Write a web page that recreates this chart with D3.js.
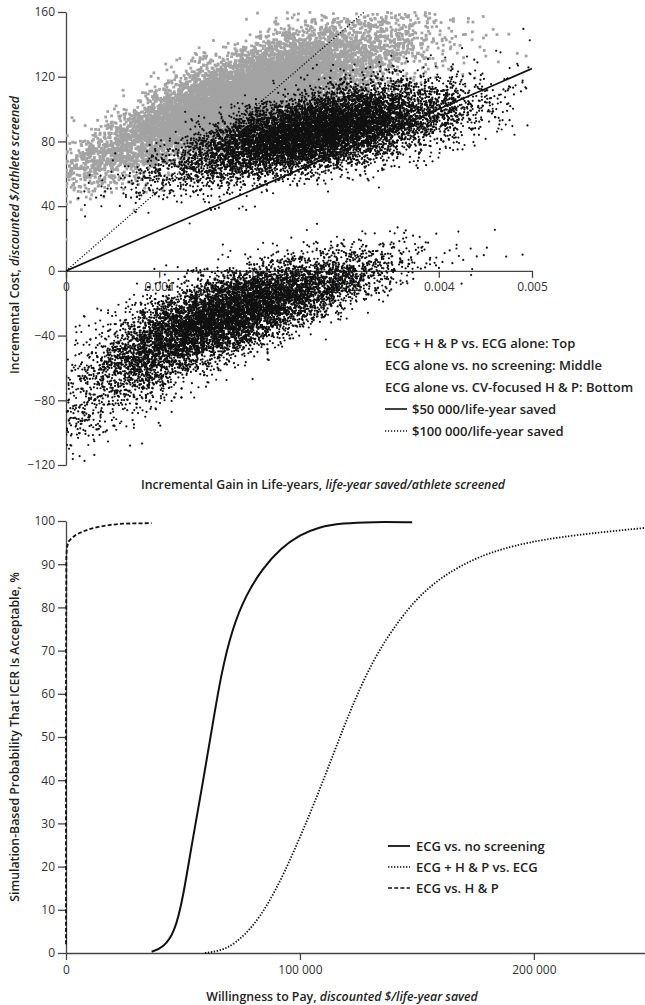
<!DOCTYPE html>
<html>
<head>
<meta charset="utf-8">
<script src="https://cdn.jsdelivr.net/npm/d3@7/dist/d3.min.js"></script>
<style>
  body { margin: 0; background: #fff; }
  svg { display: block; font-family: "Open Sans", sans-serif; }
  .axis path, .axis line { stroke: #444; stroke-width: 1.3; }
  .axis text { fill: #333; font-size: 12px; font-family: "Open Sans", sans-serif; }
  .title { fill: #222; font-size: 12.3px; font-weight: 600; }
  .legend { fill: #222; font-size: 13px; font-weight: 600; }
</style>
</head>
<body>
<svg id="chart" width="645" height="1005"></svg>
<script>
// ---- top panel: Monte Carlo clouds, summarised ----
// centre line of each cloud [life-years, cost] and vertical spread at those points
var topCenter = [[0, 62], [0.0005, 72], [0.001, 88], [0.0015, 100], [0.002, 112], [0.0025, 122], [0.003, 131], [0.0035, 139], [0.004, 146], [0.005, 155]];
var topSpread = [10, 11, 12, 13, 13, 13, 13, 13, 13, 13];
var topX = [0.0019, 0.00085];       // mean, sd of life-years
var topCount = 10000;

var midCenter = [[0, 45], [0.0005, 52], [0.001, 61], [0.0015, 70], [0.002, 78], [0.0025, 84], [0.003, 90], [0.0035, 95], [0.004, 100], [0.005, 108]];
var midSpread = [8, 8, 9, 10, 11, 11, 12, 12, 12, 12];
var midX = [0.0027, 0.00075];
var midCount = 10000;

var botCenter = [[0, -85], [0.0005, -62], [0.001, -44], [0.0015, -32], [0.002, -22], [0.0025, -13], [0.003, -4], [0.0035, 4], [0.004, 11], [0.005, 20]];
var botSpread = [20, 17, 15, 13, 12, 11, 10, 9, 9, 9];
var botX = [0.0017, 0.0008];
var botCount = 9000;

// willingness-to-pay thresholds drawn as lines (slope in $ per life-year on the axes)
var thresholdSlopes = [25000, 50000];

var topYTicks = [-120, -80, -40, 0, 40, 80, 120, 160];
var topXTicks = [0, 0.001, 0.002, 0.003, 0.004, 0.005];

var topLegend = [
  "ECG + H & P vs. ECG alone: Top",
  "ECG alone vs. no screening: Middle",
  "ECG alone vs. CV-focused H & P: Bottom",
  "$50 000/life-year saved",
  "$100 000/life-year saved"
];

// ---- bottom panel: acceptability curves [wtp, %] ----
var ecgVsNone = [[36600, 0.3], [41600, 1.2], [46600, 4.9], [50100, 13], [53700, 25], [58700, 40], [63000, 54], [66500, 65], [71000, 75], [77000, 83], [84000, 89], [92000, 93.8], [100000, 96.8], [108000, 98.6], [118000, 99.5], [131000, 99.8], [148000, 99.7]];
var hpVsEcg = [[59400, 0], [66000, 0.5], [72000, 2], [80800, 6.5], [89300, 14], [97900, 24], [106400, 35], [115000, 47], [122100, 57], [131300, 68], [142700, 77.5], [154100, 84.5], [168400, 89.8], [185500, 93.7], [210000, 96.4], [247500, 98.4]];
var ecgVsHp = [[0, 2], [0, 60], [150, 92], [400, 93.8], [1000, 95.2], [2400, 96], [4500, 96.9], [7400, 97.6], [10500, 98.2], [14500, 98.7], [19000, 99.1], [24400, 99.4], [36600, 99.5]];

var botYTicks = d3.range(0, 101, 10);
var botXTicks = [0, 100000, 200000];
var botLegend = ["ECG vs. no screening", "ECG + H & P vs. ECG", "ECG vs. H & P"];

var svg = d3.select("#chart");

// ================= TOP PANEL =================
var x1 = d3.scaleLinear().domain([0, 0.005]).range([66, 532]);
var y1 = d3.scaleLinear().domain([-120, 160]).range([465, 12]);

svg.append("defs").append("clipPath").attr("id", "clipTop")
  .append("rect")
  .attr("x", x1(0)).attr("y", y1(160) - 1)
  .attr("width", x1(0.005) - x1(0)).attr("height", y1(-120) - y1(160) + 1);

svg.append("g").attr("class", "axis")
  .attr("transform", "translate(" + x1(0) + ",0)")
  .call(d3.axisLeft(y1).tickValues(topYTicks).tickSize(8).tickSizeOuter(0).tickPadding(3));

svg.append("g").attr("class", "axis")
  .attr("transform", "translate(0," + y1(0) + ")")
  .call(d3.axisBottom(x1).tickValues(topXTicks).tickSize(7).tickSizeOuter(0).tickPadding(5)
    .tickFormat(function(d) { return d === 0 ? "0" : d3.format(".3f")(d); }));

// seeded generator so the cloud is the same on every run
function mulberry32(a) {
  return function() {
    a |= 0; a = a + 0x6D2B79F5 | 0;
    var t = Math.imul(a ^ a >>> 15, 1 | a);
    t = t + Math.imul(t ^ t >>> 7, 61 | t) ^ t;
    return ((t ^ t >>> 14) >>> 0) / 4294967296;
  };
}
var rnd = mulberry32(20100406);
function gauss() {
  var u = 1 - rnd(), v = rnd();
  return Math.sqrt(-2 * Math.log(u)) * Math.cos(2 * Math.PI * v);
}

function cloud(center, spread, xs, n) {
  var cy = d3.scaleLinear().domain(center.map(function(d) { return d[0]; })).range(center.map(function(d) { return d[1]; }));
  var sy = d3.scaleLinear().domain(center.map(function(d) { return d[0]; })).range(spread);
  var pts = [];
  for (var i = 0; i < n; i++) {
    var lx = xs[0] + xs[1] * gauss();
    var c = cy(lx) + sy(lx) * gauss();
    if (lx < 0 || lx > 0.005 || c < -120 || c > 160) continue;
    pts.push([lx, c]);
  }
  return pts;
}

var pts = svg.append("g").attr("clip-path", "url(#clipTop)");

pts.append("g").selectAll("rect")
  .data(cloud(topCenter, topSpread, topX, topCount))
  .join("rect")
  .attr("x", function(d) { return x1(d[0]) - 1.4; })
  .attr("y", function(d) { return y1(d[1]) - 1.4; })
  .attr("width", 2.8).attr("height", 2.8)
  .attr("fill", "#a3a3a3");

pts.append("g").selectAll("circle")
  .data(cloud(midCenter, midSpread, midX, midCount))
  .join("circle")
  .attr("cx", function(d) { return x1(d[0]); })
  .attr("cy", function(d) { return y1(d[1]); })
  .attr("r", 1.1).attr("fill", "#111");

pts.append("g").selectAll("circle")
  .data(cloud(botCenter, botSpread, botX, botCount))
  .join("circle")
  .attr("cx", function(d) { return x1(d[0]); })
  .attr("cy", function(d) { return y1(d[1]); })
  .attr("r", 1.1).attr("fill", "#111");

// threshold lines from the origin
thresholdSlopes.forEach(function(s, i) {
  var xEnd = Math.min(0.005, 160 / s);
  pts.append("line")
    .attr("x1", x1(0)).attr("y1", y1(0))
    .attr("x2", x1(xEnd)).attr("y2", y1(xEnd * s))
    .attr("stroke", "#111")
    .attr("stroke-width", i === 0 ? 1.7 : 1.3)
    .attr("stroke-dasharray", i === 0 ? null : "1.2,1.8");
});

// y title
svg.append("text").attr("class", "title")
  .attr("transform", "translate(19,235) rotate(-90)")
  .attr("text-anchor", "middle")
  .call(function(t) {
    t.append("tspan").text("Incremental Cost, ");
    t.append("tspan").attr("font-style", "italic").text("discounted $/athlete screened");
  });

svg.append("text").attr("class", "title")
  .attr("x", 323).attr("y", 489)
  .attr("text-anchor", "middle")
  .call(function(t) {
    t.append("tspan").text("Incremental Gain in Life-years, ");
    t.append("tspan").attr("font-style", "italic").text("life-year saved/athlete screened");
  });

var lgTop = svg.append("g");
topLegend.forEach(function(label, i) {
  var yy = 343 + i * 22;
  var tx = 385;
  if (i >= 3) {
    lgTop.append("line")
      .attr("x1", 385).attr("x2", 407).attr("y1", yy).attr("y2", yy)
      .attr("stroke", "#111")
      .attr("stroke-width", i === 3 ? 1.6 : 1.3)
      .attr("stroke-dasharray", i === 3 ? null : "1.2,1.8");
    tx = 412;
  }
  lgTop.append("text").attr("class", "legend")
    .attr("x", tx).attr("y", yy).attr("dy", "0.36em")
    .text(label);
});

// ================= BOTTOM PANEL =================
var x2 = d3.scaleLinear().domain([0, 247500]).range([66, 645]);
var y2 = d3.scaleLinear().domain([0, 100]).range([953, 521]);

svg.append("g").attr("class", "axis")
  .attr("transform", "translate(" + x2(0) + ",0)")
  .call(d3.axisLeft(y2).tickValues(botYTicks).tickSize(8).tickSizeOuter(0).tickPadding(3));

svg.append("g").attr("class", "axis")
  .attr("transform", "translate(0," + y2(0) + ")")
  .call(d3.axisBottom(x2).tickValues(botXTicks).tickSize(7).tickSizeOuter(0).tickPadding(5)
    .tickFormat(function(d) { return d3.format(",")(d).replace(/,/g, " "); }));

var smooth = d3.line()
  .x(function(d) { return x2(d[0]); })
  .y(function(d) { return y2(d[1]); })
  .curve(d3.curveBasis);
var straight = d3.line()
  .x(function(d) { return x2(d[0]); })
  .y(function(d) { return y2(d[1]); });

var curveStyles = [
  { data: ecgVsNone, dash: null, w: 2, gen: smooth },
  { data: hpVsEcg, dash: "1.4,1.6", w: 1.8, gen: smooth },
  { data: ecgVsHp, dash: "4,2.2", w: 1.8, gen: straight }
];

curveStyles.forEach(function(c) {
  svg.append("path")
    .datum(c.data)
    .attr("d", c.gen)
    .attr("fill", "none")
    .attr("stroke", "#111")
    .attr("stroke-width", c.w)
    .attr("stroke-dasharray", c.dash);
});

svg.append("text").attr("class", "title")
  .attr("transform", "translate(19,737) rotate(-90)")
  .attr("text-anchor", "middle")
  .text("Simulation-Based Probability That ICER Is Acceptable, %");

svg.append("text").attr("class", "title")
  .attr("x", 342).attr("y", 1001)
  .attr("text-anchor", "middle")
  .call(function(t) {
    t.append("tspan").text("Willingness to Pay, ");
    t.append("tspan").attr("font-style", "italic").text("discounted $/life-year saved");
  });

var lgBot = svg.append("g");
botLegend.forEach(function(label, i) {
  var yy = 846 + i * 21;
  lgBot.append("line")
    .attr("x1", 388).attr("x2", 410).attr("y1", yy).attr("y2", yy)
    .attr("stroke", "#111")
    .attr("stroke-width", i === 0 ? 1.8 : 1.4)
    .attr("stroke-dasharray", curveStyles[i].dash);
  lgBot.append("text").attr("class", "legend")
    .attr("x", 416).attr("y", yy).attr("dy", "0.36em")
    .text(label);
});
</script>
</body>
</html>
